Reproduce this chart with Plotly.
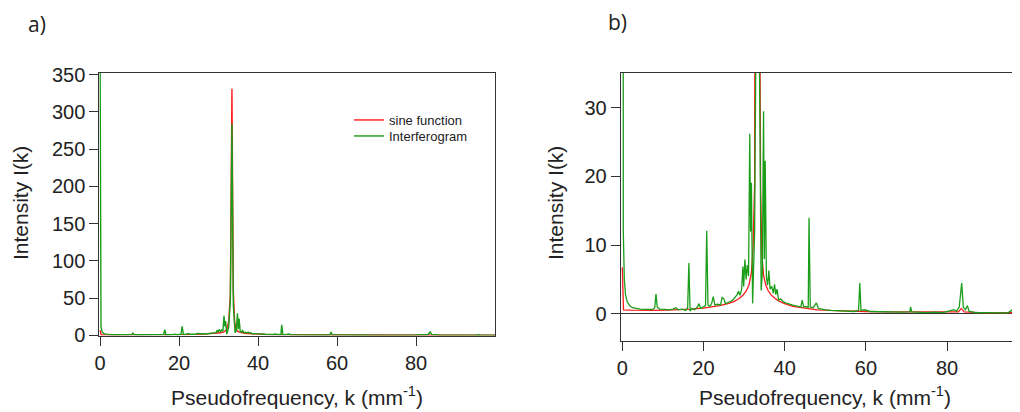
import plotly.graph_objects as go

# ---- data ----
k_green = [0.0, 0.25, 0.5, 0.8, 1.2, 1.8, 2.5, 3.5, 4.5, 5.5, 6.5, 7.5, 8.0, 8.3, 8.6, 9.2, 10.5, 11.5,
           12.5, 13.2, 13.8, 14.8, 15.6, 16.1, 16.4, 16.7, 17.2, 17.8, 18.5, 18.9, 19.3, 20.0, 20.5,
           20.8, 21.1, 21.6, 22.0, 22.4, 22.8, 23.5, 24.2, 24.6, 25.0, 25.4, 26.0, 26.6, 27.2, 27.8,
           28.3, 28.6, 29.0, 29.4, 29.7, 29.9, 30.2, 30.5, 30.8, 31.1, 31.4, 31.6, 31.8, 32.1, 32.4,
           32.6, 33.0, 33.4, 33.75, 34.0, 34.2, 34.5, 34.8, 35.0, 35.2, 35.5, 35.8, 36.1, 36.4, 36.8,
           37.2, 37.5, 37.8, 38.1, 38.5, 39.0, 39.6, 40.2, 41.0, 41.8, 42.5, 43.2, 44.0, 44.3, 44.7,
           45.3, 45.8, 46.0, 46.3, 47.0, 47.8, 48.3, 49.0, 50.0, 51.5, 53.0, 55.0, 57.0, 58.2, 58.5,
           58.8, 59.8, 61.0, 63.0, 65.0, 67.0, 69.0, 70.8, 71.0, 71.3, 73.0, 75.0, 77.0, 79.0, 81.0,
           81.6, 82.3, 83.0, 83.6, 84.0, 84.5, 85.0, 85.4, 87.0, 89.0, 91.0, 93.0, 95.0, 96.1, 96.3,
           98.0, 100.0]
i_green = [420, 12, 5, 2.8, 1.8, 1.2, 0.9, 0.75, 0.7, 0.65, 0.6, 0.65, 0.9, 2.9, 1.0, 0.7, 0.65, 0.6,
           0.7, 0.9, 0.6, 0.7, 0.5, 0.9, 7.4, 0.4, 0.8, 0.6, 1.0, 1.5, 0.8, 1.0, 1.2,
           12.1, 1.3, 1.1, 1.5, 2.5, 1.3, 1.4, 1.3, 2.4, 2.2, 1.5, 1.6, 1.8, 2.0, 2.4,
           2.8, 3.3, 2.7, 3.6, 6.9, 4.0, 7.9, 5.0, 7.1, 5.5, 26.2, 12, 19.1, 1.5, 7.4,
           12, 48, 284, 40, 6, 3.4, 6, 29.5, 8, 22.3, 5.3, 4.2, 6.3, 3.6, 4.0,
           3.0, 4.3, 2.8, 3.6, 2.0, 2.2, 1.8, 1.6, 1.5, 1.3, 1.2, 1.1, 1.0, 2.0, 1.0,
           1.1, 0.9, 14.0, 1.0, 0.9, 1.6, 0.8, 0.7, 0.6, 0.5, 0.45, 0.4, 0.35, 0.5, 4.5,
           0.5, 0.6, 0.35, 0.3, 0.25, 0.3, 0.25, 0.3, 1.0, 0.3, 0.25, 0.2, 0.25, 0.2, 0.5,
           0.6, 0.4, 1.0, 4.5, 1.0, 0.6, 1.2, 0.4, 0.2, 0.2, 0.15, 0.15, 0.15, 0.6, 0.15,
           0.15, 0.15]

k_red = [0.0, 0.3, 2, 5, 8, 11, 14, 17, 20, 22, 24, 26, 27.5, 28.7, 29.7, 30.5, 31.2, 31.8, 32.2,
         32.6, 33.0, 33.4, 33.75, 34.08, 34.4, 34.8, 35.3, 35.9, 36.6, 37.5, 38.5, 40, 42, 44, 46,
         48, 51, 55, 60, 65, 70, 75, 80, 82.8, 83.5, 84.2, 88, 94, 100]
i_red = [6.8, 0.6, 0.55, 0.5, 0.5, 0.55, 0.6, 0.7, 0.85, 1.0, 1.2, 1.5, 1.8, 2.2, 2.7, 3.3, 4.2, 6.0, 9.5,
         19, 55, 331, 60, 17.9, 8.4, 5.6, 4.3, 3.4, 2.8, 2.3, 1.9, 1.5, 1.1, 0.9, 0.75,
         0.6, 0.5, 0.4, 0.35, 0.3, 0.28, 0.25, 0.22, 0.3, 0.8, 0.3, 0.2, 0.18, 0.15]

x_ticks = [0, 20, 40, 60, 80]
y_ticks_a = [0, 50, 100, 150, 200, 250, 300, 350]
y_ticks_b = [0, 10, 20, 30]

RED = "#ff1a1a"
GREEN = "#1a9e1a"
AXC = "#333333"
FONT = "Arial"

# page has an 8px body margin; figure sized so it ends at the window edge
OFF = 8
W, H = 1020 - OFF, 412 - OFF
def px(x):
    return (x - OFF) / W
def py(y):
    return (H - (y - OFF)) / H

fig = go.Figure()
fig.add_trace(go.Scatter(x=k_red, y=i_red, mode="lines", name="sine function", legend="legend",
                         line=dict(color=RED, width=1.4), xaxis="x", yaxis="y"))
fig.add_trace(go.Scatter(x=k_green, y=i_green, mode="lines", name="Interferogram", legend="legend2",
                         line=dict(color=GREEN, width=1.4), xaxis="x", yaxis="y"))
fig.add_trace(go.Scatter(x=k_red, y=i_red, mode="lines", showlegend=False,
                         line=dict(color=RED, width=1.3), xaxis="x2", yaxis="y2"))
fig.add_trace(go.Scatter(x=k_green, y=i_green, mode="lines", showlegend=False,
                         line=dict(color=GREEN, width=1.3), xaxis="x2", yaxis="y2"))

axis_common = dict(showline=True, linecolor=AXC, linewidth=1, mirror=True, ticks="outside",
                   tickcolor=AXC, ticklen=9, tickwidth=1, showgrid=False, automargin=False,
                   tickfont=dict(family=FONT, size=20, color="#222"))

leg_common = dict(xanchor="left", yanchor="middle", bgcolor="rgba(0,0,0,0)",
                  font=dict(family=FONT, size=13, color="#222"))

fig.update_layout(
    width=W, height=H, margin=dict(l=0, r=0, t=0, b=0, autoexpand=False),
    plot_bgcolor="white", paper_bgcolor="white",
    xaxis=dict(domain=[px(99.3), px(495)], range=[-0.18, 100], tickvals=x_ticks,
               zeroline=False, anchor="y", **axis_common),
    yaxis=dict(domain=[py(335.5), py(73)], range=[-0.3, 352.3], tickvals=y_ticks_a,
               zeroline=False, anchor="x", **axis_common),
    xaxis2=dict(domain=[px(620.7), 1.0], range=[-0.39, 97.96], tickvals=x_ticks,
                zeroline=False, anchor="y2", **axis_common),
    yaxis2=dict(domain=[py(340.7), py(72.7)], range=[-3.9, 35.1], tickvals=y_ticks_b,
                zeroline=True, zerolinecolor=AXC, zerolinewidth=1, anchor="x2", **axis_common),
    legend=dict(x=px(349), y=py(120), **leg_common),
    legend2=dict(x=px(349), y=py(136), **leg_common),
    showlegend=True,
)

ann_font = dict(family=FONT, size=21, color="#222")
lab_font = dict(family="Open Sans", size=21, color="#222")
annotations = [
    dict(text="a)", x=px(37), y=py(24), font=lab_font),
    dict(text="b)", x=px(617), y=py(22), font=lab_font),
    dict(text="Intensity I(k)", x=px(20), y=py(203), textangle=-90, font=ann_font),
    dict(text="Intensity I(k)", x=px(555), y=py(203), textangle=-90, font=ann_font),
    dict(text="Pseudofrequency, k (mm<sup>-1</sup>)", x=px(297), y=py(396), font=ann_font),
    dict(text="Pseudofrequency, k (mm<sup>-1</sup>)", x=px(825), y=py(396), font=ann_font),
]
for a in annotations:
    a.update(xref="paper", yref="paper", showarrow=False, xanchor="center", yanchor="middle",
             borderpad=0)
fig.update_layout(annotations=annotations)

fig.write_html("out.html")
